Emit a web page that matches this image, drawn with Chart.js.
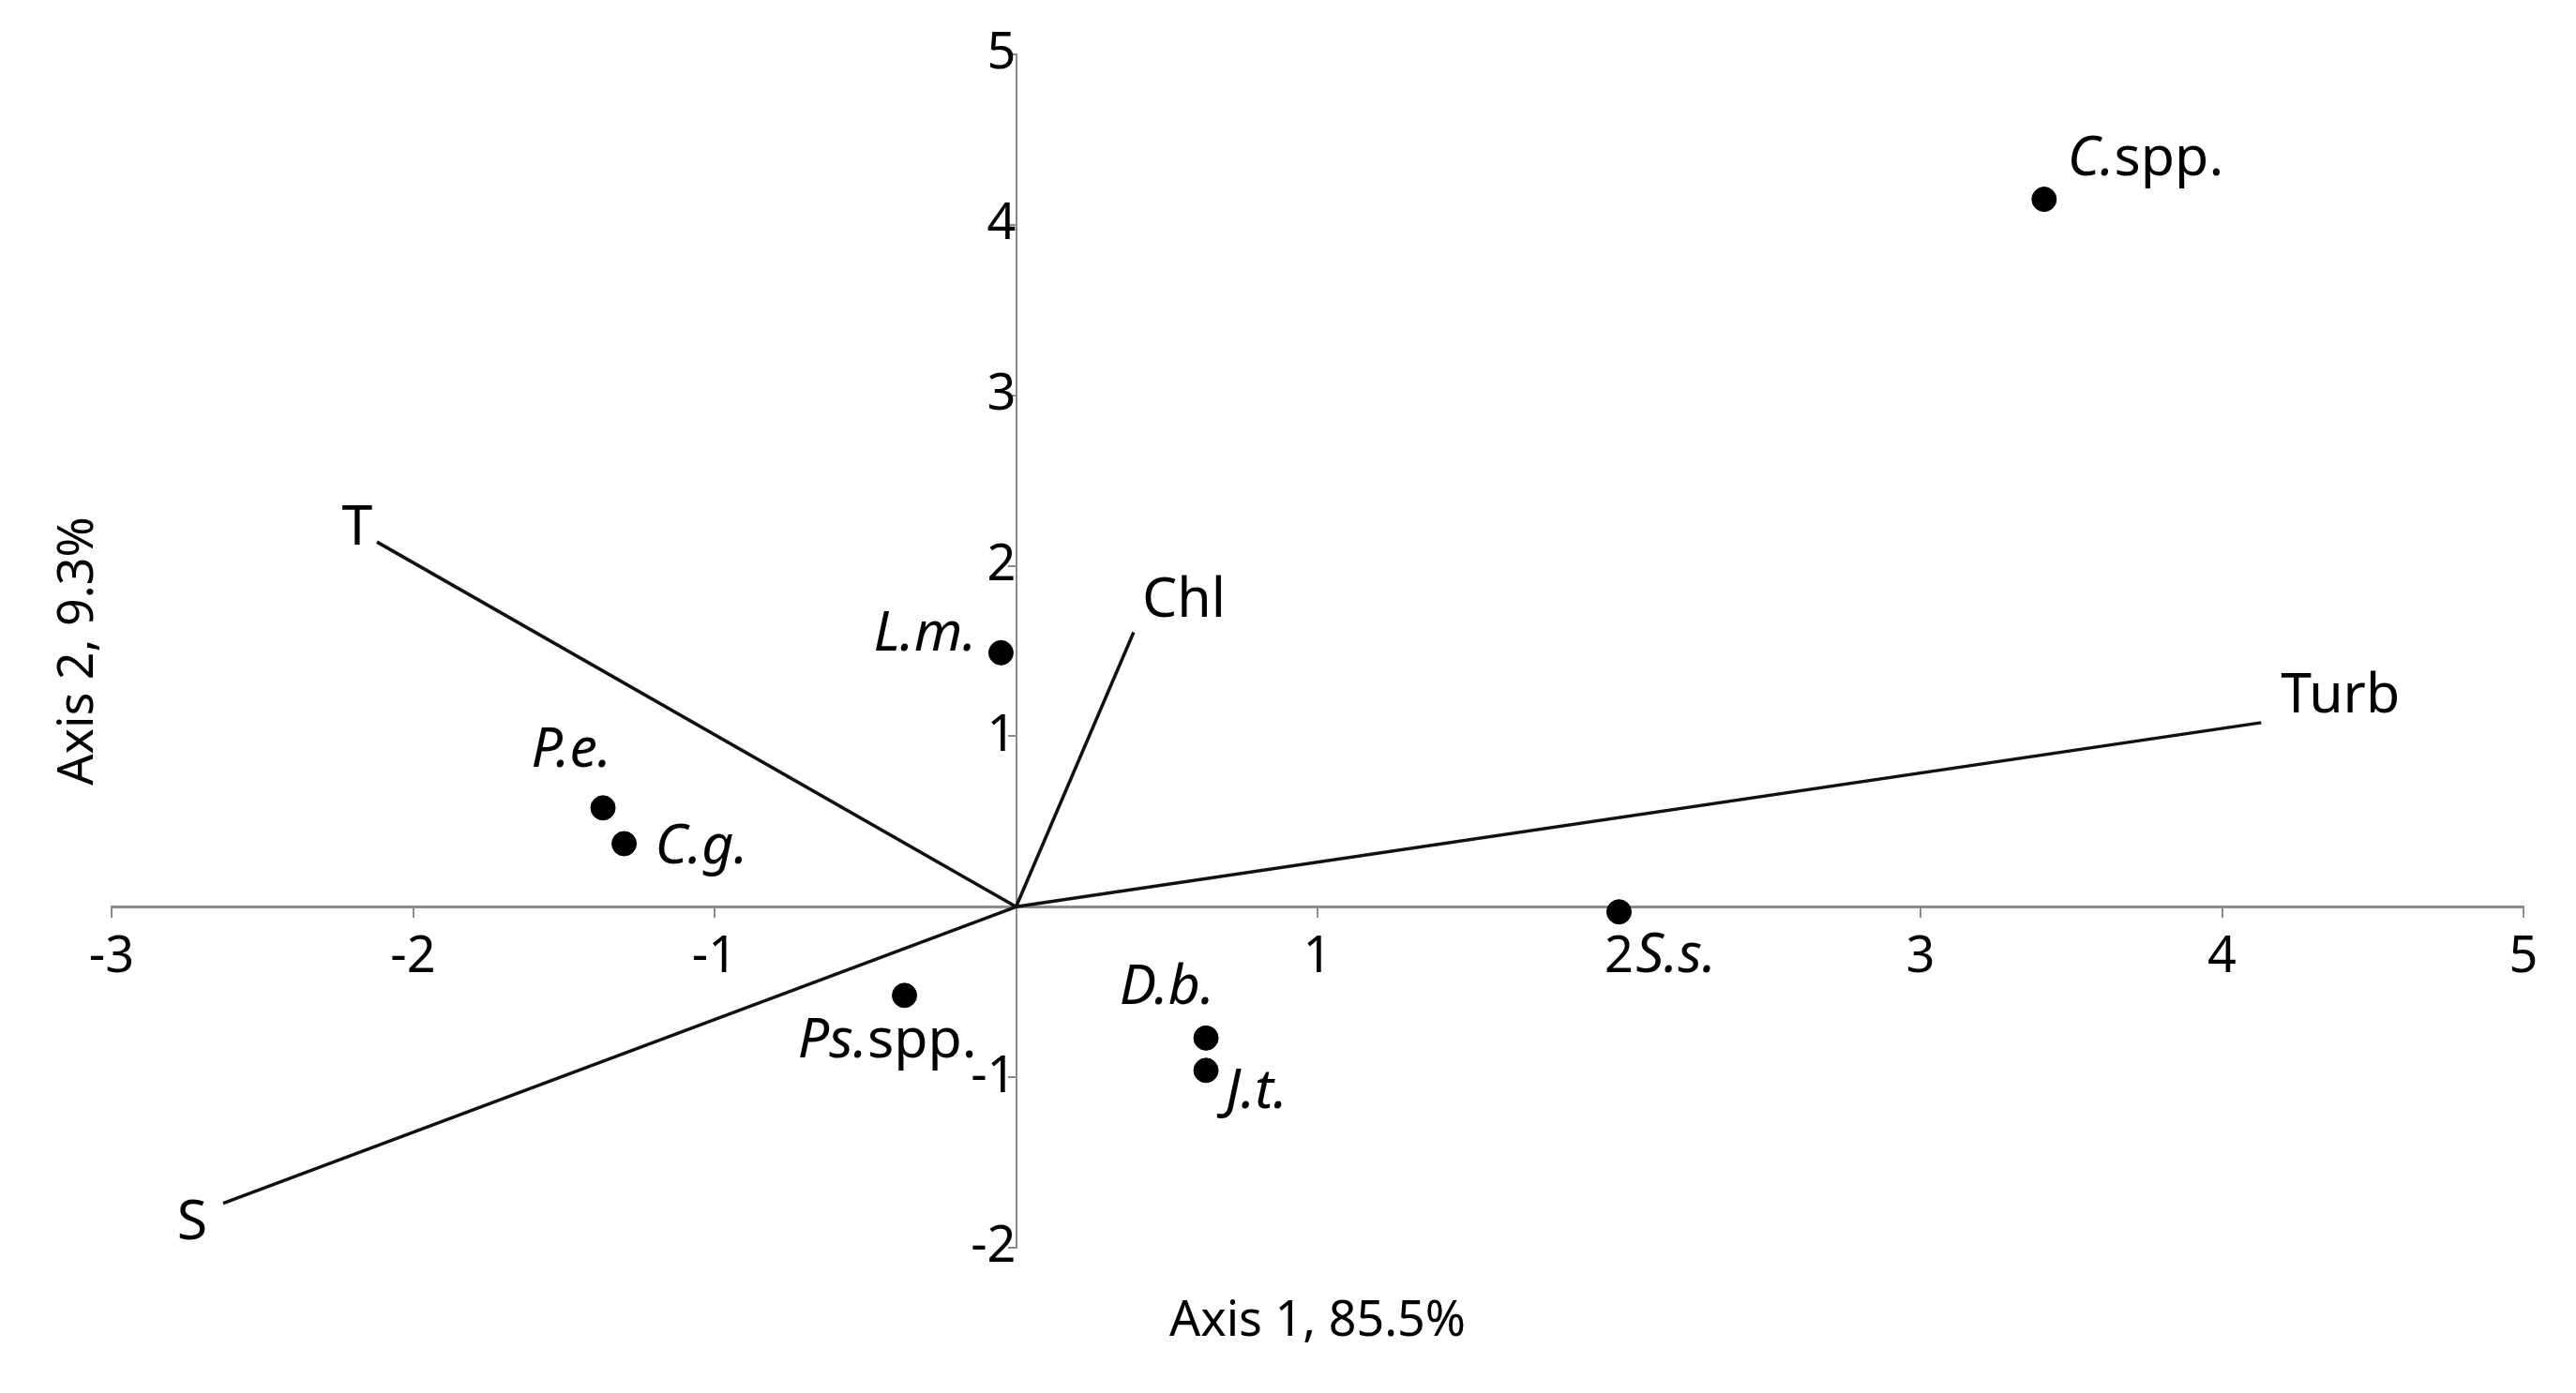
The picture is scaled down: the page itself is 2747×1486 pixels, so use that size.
<!DOCTYPE html>
<html>
<head>
<meta charset="utf-8">
<script src="https://cdn.jsdelivr.net/npm/chart.js@4"></script>
<style>
body { margin: 0; background: #fff; }
#wrap { width: 2747px; height: 1486px; }
</style>
</head>
<body>
<div id="wrap"><canvas id="chRda"></canvas></div>
<script>
// species scores (Axis 1, Axis 2)
const speciesX = [3.41, -0.05, -1.37, -1.30, 2.00, -0.37, 0.63, 0.63];
const speciesY = [4.15, 1.49, 0.58, 0.37, -0.03, -0.52, -0.77, -0.96];
const speciesItalic = ['C.', 'L.m.', 'P.e.', 'C.g.', 'S.s.', 'Ps.', 'D.b.', 'J.t.'];
const speciesRoman = ['spp.', '', '', '', '', 'spp.', '', ''];

// environmental vectors
const envNames = ['T', 'Chl', 'Turb', 'S'];
const envX = [-2.12, 0.39, 4.13, -2.63];
const envY = [2.14, 1.61, 1.08, -1.74];

const xTitle = 'Axis 1, 85.5%';
const yTitle = 'Axis 2, 9.3%';

// label placement: [dx, dy, align] in px from the mark
const speciesLabelPos = [
    [25, -42, 'left'], [-26, -19, 'right'], [9, -61, 'right'], [33, 4, 'left'],
    [18, 47, 'left'], [77, 49, 'right'], [9, -53, 'right'], [21, 23, 'left']
];
const envLabelPos = [[-21, -14, 'center'], [9, -33, 'left'], [21, -28, 'left'], [-33, 21, 'center']];

const fontFamily = '"Noto Sans", "Open Sans", sans-serif';
const axisGray = '#8a8a8a';

function drawMixed(ctx, ital, rom, x, y, align, size) {
    ctx.font = 'italic ' + size + 'px ' + fontFamily;
    let w1 = ctx.measureText(ital).width;
    ctx.font = size + 'px ' + fontFamily;
    let w2 = ctx.measureText(rom).width;
    let start = x;
    if (align == 'right') start = x - w1 - w2;
    else if (align == 'center') start = x - (w1 + w2) / 2;
    ctx.textAlign = 'left';
    ctx.font = 'italic ' + size + 'px ' + fontFamily;
    ctx.fillText(ital, start, y);
    if (rom) {
        ctx.font = size + 'px ' + fontFamily;
        ctx.fillText(rom, start + w1, y);
    }
}

const rdaLabels = {
    id: 'rdaLabels',
    afterDatasetsDraw(chart) {
        const ctx = chart.ctx;
        const xs = chart.scales.x, ys = chart.scales.y;
        const area = chart.chartArea;
        ctx.save();
        ctx.fillStyle = '#000';
        ctx.textBaseline = 'middle';
        for (let i = 0; i < speciesX.length; i++) {
            let p = speciesLabelPos[i];
            drawMixed(ctx, speciesItalic[i], speciesRoman[i],
                xs.getPixelForValue(speciesX[i]) + p[0], ys.getPixelForValue(speciesY[i]) + p[1], p[2], 59);
        }
        for (let i = 0; i < envNames.length; i++) {
            let p = envLabelPos[i];
            drawMixed(ctx, '', envNames[i],
                xs.getPixelForValue(envX[i]) + p[0], ys.getPixelForValue(envY[i]) + p[1], p[2], 59);
        }
        // axis titles
        ctx.font = '52px ' + fontFamily;
        ctx.textAlign = 'center';
        ctx.fillText(xTitle, (area.left + area.right) / 2, area.bottom + 79);
        ctx.translate(84, (area.top + area.bottom) / 2);
        ctx.rotate(-Math.PI / 2);
        ctx.fillText(yTitle, 0, 0);
        ctx.restore();
    }
};

let datasets = [];
for (let i = 0; i < envNames.length; i++) {
    datasets.push({
        label: envNames[i],
        data: [{ x: 0, y: 0 }, { x: envX[i], y: envY[i] }],
        showLine: true,
        borderColor: '#111',
        borderWidth: 3.5,
        pointRadius: 0
    });
}
datasets.push({
    label: 'species',
    data: speciesX.map((v, i) => ({ x: v, y: speciesY[i] })),
    backgroundColor: '#000',
    borderColor: '#000',
    pointRadius: 13,
    pointHoverRadius: 13
});

const tickOpts = {
    stepSize: 1,
    color: '#000',
    font: { family: fontFamily, size: 54 },
    callback: (v) => (v == 0 ? '' : v)
};

new Chart(document.getElementById('chRda'), {
    type: 'scatter',
    data: { datasets: datasets },
    options: {
        responsive: true,
        maintainAspectRatio: false,
        animation: false,
        layout: { padding: { left: 119, right: 56, top: 58, bottom: 155 } },
        plugins: { legend: { display: false }, tooltip: { enabled: false } },
        scales: {
            x: {
                min: -3, max: 5,
                position: { y: 0 },
                afterFit: (s) => { s.height = 0; },
                border: { display: true, color: axisGray, width: 3 },
                grid: { display: true, drawOnChartArea: false, color: axisGray, lineWidth: 2, tickLength: 10 },
                ticks: Object.assign({}, tickOpts, { padding: 12, maxRotation: 0 })
            },
            y: {
                min: -2, max: 5,
                position: { x: 0 },
                afterFit: (s) => { s.width = 0; },
                border: { display: true, color: axisGray, width: 2 },
                grid: { display: true, drawOnChartArea: false, color: axisGray, lineWidth: 2, tickLength: 8 },
                ticks: Object.assign({}, tickOpts, { padding: 6 })
            }
        }
    },
    plugins: [rdaLabels]
});
</script>
</body>
</html>
